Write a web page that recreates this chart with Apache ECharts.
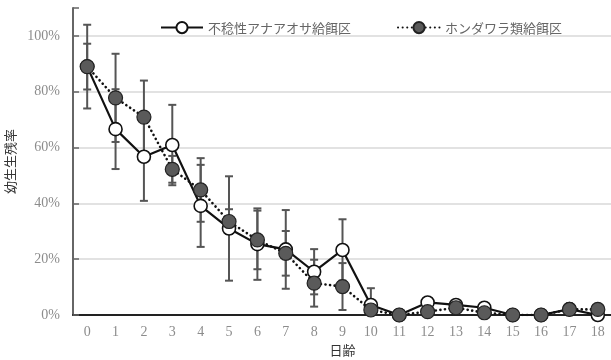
<!DOCTYPE html>
<html><head><meta charset="utf-8">
<script src="https://cdn.jsdelivr.net/npm/echarts@6/dist/echarts.min.js"></script>
<style>html,body{margin:0;padding:0;background:#fff}#c{width:611px;height:360px}</style>
</head><body><div id="c"></div>
<script>
const days = ['0','1','2','3','4','5','6','7','8','9','10','11','12','13','14','15','16','17','18'];
const nameA = '不稔性アナアオサ給餌区';
const nameB = 'ホンダワラ類給餌区';
const valuesA = [89, 66.6, 56.7, 60.9, 39.1, 31, 25.4, 23.5, 15.5, 23.3, 3.6, 0, 4.5, 3.6, 2.6, 0, 0, 2.1, 0];
const valuesB = [89, 77.8, 70.9, 52.2, 44.8, 33.5, 26.9, 22.1, 11.4, 10.2, 1.8, 0, 1.2, 2.6, 0.8, 0, 0, 2.0, 2.0];
const errA = [15, 14.3, 15.8, 14.4, 14.7, 18.7, 12.8, 14.1, 8.1, 11, 6, 0, 0, 0, 0, 0, 0, 0, 0];
const errB = [8.2, 15.8, 13.1, 4.8, 11.4, 4.4, 10.5, 8, 8.4, 8.4, 1, 0, 0, 0, 0, 0, 0, 0, 0];
const yTicks = [0, 20, 40, 60, 80, 100];

function errData(vals, errs) {
  return vals.map((v, i) => [i, Math.max(0, v - errs[i]), v + errs[i]]);
}
function renderErr(params, api) {
  const x = api.value(0);
  const lo = api.coord([x, api.value(1)]);
  const hi = api.coord([x, api.value(2)]);
  if (Math.abs(hi[1] - lo[1]) < 0.5) return null;
  const w = 4;
  const st = { stroke: '#555', lineWidth: 2 };
  return {
    type: 'group',
    children: [
      { type: 'line', shape: { x1: lo[0], y1: lo[1], x2: hi[0], y2: hi[1] }, style: st },
      { type: 'line', shape: { x1: hi[0] - w, y1: hi[1], x2: hi[0] + w, y2: hi[1] }, style: st },
      { type: 'line', shape: { x1: lo[0] - w, y1: lo[1], x2: lo[0] + w, y2: lo[1] }, style: st }
    ]
  };
}

const chart = echarts.init(document.getElementById('c'));
chart.setOption({
  animation: false,
  backgroundColor: '#fff',
  grid: { left: 73, top: 8, width: 539, height: 307, outerBoundsMode: 'none', containLabel: false },
  legend: {
    data: [nameA, nameB],
    left: 155, top: 16,
    itemWidth: 42, itemHeight: 14, itemGap: 46,
    textStyle: { fontFamily: 'Noto Sans CJK JP', fontSize: 13, color: '#666' }
  },
  xAxis: {
    type: 'category', data: days, boundaryGap: true,
    axisLine: { lineStyle: { color: '#222', width: 2 } },
    axisTick: { show: false },
    axisLabel: { color: '#8c8c8c', fontFamily: 'Liberation Serif', fontSize: 14, margin: 10 },
    name: '日齢', nameLocation: 'middle', nameGap: 29,
    nameTextStyle: { fontFamily: 'Noto Sans CJK JP', fontSize: 13, color: '#333' }
  },
  yAxis: {
    type: 'value', min: 0, max: 110, interval: 20,
    axisLine: { show: true, lineStyle: { color: '#666', width: 2 } },
    axisTick: { show: true, inside: true, length: 6, lineStyle: { color: '#666', width: 1.5 } },
    splitLine: { show: true, showMaxLine: false, showMinLine: false, lineStyle: { color: '#d9d9d9', width: 1.5 } },
    axisLabel: {
      color: '#8c8c8c', fontFamily: 'Liberation Serif', fontSize: 14, margin: 13,
      formatter: v => (yTicks.indexOf(v) >= 0 ? v + '%' : '')
    },
    name: '幼生生残率', nameLocation: 'middle', nameGap: 45, nameRotate: 90,
    nameTextStyle: { fontFamily: 'Noto Sans CJK JP', fontSize: 13, color: '#333' }
  },
  series: [
    { type: 'custom', name: 'errA', data: errData(valuesA, errA), renderItem: renderErr, z: 1, silent: true, clip: false },
    { type: 'custom', name: 'errB', data: errData(valuesB, errB), renderItem: renderErr, z: 1, silent: true, clip: false },
    {
      type: 'line', name: nameA, data: valuesA, z: 3,
      symbol: 'circle', symbolSize: 13,
      lineStyle: { color: '#111', width: 2.2, type: 'solid' },
      itemStyle: { color: '#fff', borderColor: '#111', borderWidth: 1.6 }
    },
    {
      type: 'line', name: nameB, data: valuesB, z: 4,
      symbol: 'circle', symbolSize: 14,
      lineStyle: { color: '#111', width: 2.6, type: [0.1, 4.5], cap: 'round' },
      itemStyle: { color: '#5a5a5a', borderColor: '#222', borderWidth: 1.2 }
    }
  ]
});
</script></body></html>
